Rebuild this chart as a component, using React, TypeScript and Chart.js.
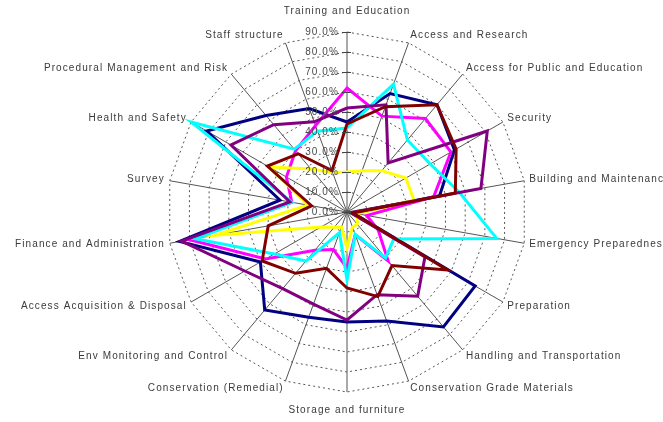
import React, { useEffect, useRef } from "react";
import { Chart, registerables } from "chart.js";

Chart.register(...registerables);

const categories = [
  "Training and Education",
  "Access and Research",
  "Access for Public and Education",
  "Security",
  "Building and Maintenance",
  "Emergency Preparedness",
  "Preparation",
  "Handling and Transportation",
  "Conservation Grade Materials",
  "Storage and furniture",
  "Conservation (Remedial)",
  "Env Monitoring and Control",
  "Access Acquisition & Disposal",
  "Finance and Administration",
  "Survey",
  "Health and Safety",
  "Procedural Management and Risk",
  "Staff structure",
];

const tickValues = [0, 10, 20, 30, 40, 50, 60, 70, 80, 90];

const navy = [45, 63, 70, 62, 47, 3, 74, 75, 58, 55, 56, 64, 50, 85, 34, 81, 63, 55];
const magenta = [62, 51, 61, 60, 44, 10, 18, 32, 12, 28, 20, 25, 47, 80, 28, 35, 40, 46];
const yellow = [20, 22, 27, 34, 34, 5, 6, 8, 8, 18, 8, 10, 15, 67, 20, 45, 28, 21];
const cyan = [42, 68, 47, 48, 57, 76, 27, 30, 12, 34, 11, 32, 42, 77, 28, 90, 41, 43];
const purple = [52, 57, 32, 81, 68, 2, 45, 55, 44, 54, 49, 50, 59, 84, 29, 67, 57, 48];
const maroon = [44, 56, 70, 63, 55, 3, 58, 35, 45, 38, 30, 40, 49, 40, 18, 46, 38, 22];

const seriesList = [
  { name: "Series 1", data: navy, color: "#000080" },
  { name: "Series 2", data: magenta, color: "#FF00FF" },
  { name: "Series 3", data: yellow, color: "#FFFF00" },
  { name: "Series 4", data: cyan, color: "#00FFFF" },
  { name: "Series 5", data: purple, color: "#800080" },
  { name: "Series 6", data: maroon, color: "#800000" },
];

const FONT = '10px "Liberation Sans", Arial, sans-serif';

const labelPlugin = {
  id: "excelRadarLabels",
  afterDatasetsDraw(chart: any) {
    const scale = chart.scales.r;
    const ctx = chart.ctx as CanvasRenderingContext2D;
    const n = categories.length;
    ctx.save();
    ctx.font = FONT;
    (ctx as any).letterSpacing = "1.1px";
    ctx.textBaseline = "middle";
    // category labels
    ctx.fillStyle = "#3a3a3a";
    categories.forEach((label, i) => {
      const ang = (i / n) * Math.PI * 2;
      const s = Math.sin(ang);
      const c = Math.cos(ang);
      const p = scale.getPointPosition(i, scale.drawingArea + 5);
      let align: CanvasTextAlign = "center";
      if (Math.abs(s) > 0.05) align = s > 0 ? "left" : "right";
      let y = p.y - c * 3;
      if (Math.abs(s) <= 0.05) y = c > 0 ? p.y - 16 : p.y + 13;
      ctx.textAlign = align;
      ctx.fillText(label, p.x, y);
    });
    // value axis ticks and labels
    ctx.fillStyle = "#4a4a4a";
    ctx.strokeStyle = "#444444";
    ctx.lineWidth = 1;
    ctx.textAlign = "right";
    tickValues.forEach((v) => {
      const d = scale.getDistanceFromCenterForValue(v);
      const x = scale.xCenter;
      const y = scale.yCenter - d;
      ctx.beginPath();
      ctx.moveTo(x - 5, Math.round(y) + 0.5);
      ctx.lineTo(x + 4, Math.round(y) + 0.5);
      ctx.stroke();
      ctx.fillText(v.toFixed(1) + "%", x - 8, y);
    });
    ctx.restore();
  },
};

export default function App() {
  const canvasRef = useRef<HTMLCanvasElement | null>(null);

  useEffect(() => {
    document.body.style.margin = "0";
    const canvas = canvasRef.current;
    if (!canvas) return;
    const chart = new Chart(canvas, {
      type: "radar",
      data: {
        labels: categories,
        datasets: seriesList.map((s, i) => ({
          label: s.name,
          data: s.data,
          borderColor: s.color,
          backgroundColor: s.color,
          borderWidth: 3,
          fill: false,
          pointRadius: 0,
          pointHoverRadius: 0,
          tension: 0,
          order: seriesList.length - i,
        })),
      },
      options: {
        responsive: false,
        animation: false,
        events: [],
        plugins: {
          legend: { display: false },
          tooltip: { enabled: false },
          title: { display: false },
        },
        scales: {
          r: {
            min: 0,
            max: 90,
            beginAtZero: true,
            ticks: { stepSize: 10, display: false },
            pointLabels: { display: false },
            grid: { color: "#555555", lineWidth: 1, circular: false },
            border: { dash: [2, 3] },
            angleLines: { display: true, color: "#555555", lineWidth: 1 },
            afterFit: (scale: any) => {
              scale.xCenter = 347;
              scale.yCenter = 212;
              scale.drawingArea = 180;
            },
          },
        },
      },
      plugins: [labelPlugin],
    } as any);
    return () => chart.destroy();
  }, []);

  return (
    <div style={{ width: 663, height: 422, background: "#ffffff" }}>
      <canvas ref={canvasRef} width={663} height={422} style={{ display: "block" }} />
    </div>
  );
}
